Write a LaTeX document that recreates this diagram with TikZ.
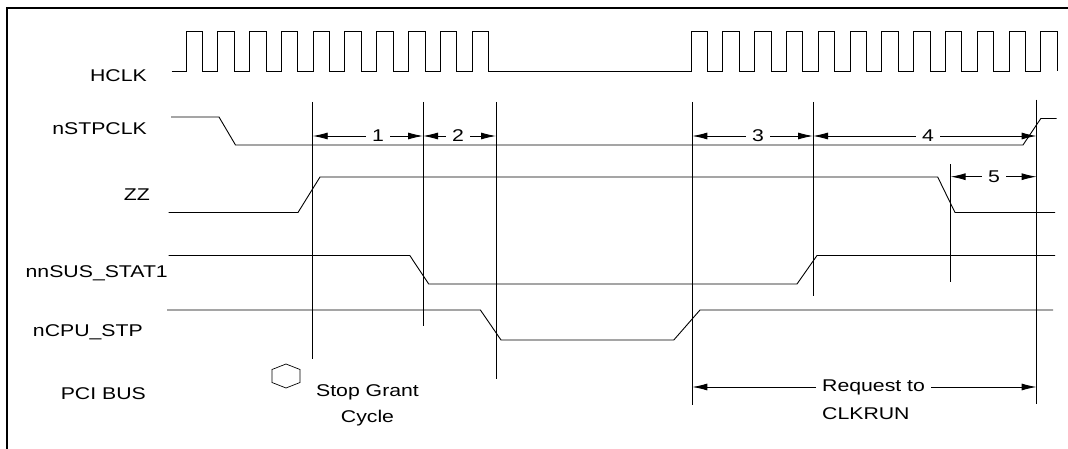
\documentclass[tikz,border=0pt]{standalone}
\usepackage{fontspec}
\setmainfont{Liberation Sans}[FakeStretch=1.25]
\usetikzlibrary{positioning,arrows.meta}
\newcommand{\sigfont}{\fontsize{17}{26}\selectfont}

\begin{document}
\begin{tikzpicture}[x=1pt,y=-1pt,
    sig/.style={line width=0.9pt},
    marker/.style={line width=0.9pt},
    dim/.style={line width=0.9pt,-{Latex[length=15pt,width=7pt]}},
    lab/.style={anchor=base east,inner sep=0pt,font=\sigfont},
    num/.style={inner xsep=6pt,inner ysep=0pt,font=\sigfont}
]
\useasboundingbox (0,0) rectangle (1068,449);
\draw[line width=1.8pt] (1068,8) -- (7,8) -- (7,449);

% signal names
\node[lab] (hclk) at (147,82)    {HCLK};
\node[lab] (stp)  at (147,135)   {nSTPCLK};
\node[lab] (zz)   at (150,201)   {ZZ};
\node[lab] (sus)  at (168,277)   {nnSUS\_STAT1};
\node[lab] (cpu)  at (143,336.5) {nCPU\_STP};
\node[lab] (pci)  at (146,399)   {PCI BUS};

% waveforms
\draw[sig] (171.5,71)
    foreach \i in {0,...,9} {-- ({186+31.78*\i},71) |- ++(16.5,-40) -- ++(0,40)}
    foreach \i in {0,...,11} {-- ({691+31.8*\i},71) |- ++(16.5,-40) -- ++(0,40)};
\draw[sig] (171,117) -- (219,117) -- (235.5,145) -- (1023,145) -- (1040.8,118.5) -- (1056.5,118.5);
\draw[sig] (168.7,212.5) -- (298,212.5) -- (320,177) -- (937.7,177) -- (955,212.5) -- (1055,212.5);
\draw[sig] (168.7,255.5) -- (409.8,255.5) -- (428.7,284) -- (797,284) -- (817,255.5) -- (1055,255.5);
\draw[sig] (167,310) -- (480.4,310) -- (501,340) -- (673.8,340) -- (700,310) -- (1053,310);

% timing marks
\coordinate (m1) at (312.7,102);
\coordinate (m2) at (423,102);
\coordinate (m3) at (496,102);
\coordinate (m4) at (692.3,102);
\coordinate (m5) at (813,102);
\coordinate (m6) at (1036.6,99.6);
\coordinate (m7) at (950.6,164.5);
\draw[marker] (m1) -- ++(0,257);
\draw[marker] (m2) -- ++(0,224);
\draw[marker] (m3) -- ++(0,277);
\draw[marker] (m4) -- ++(0,303);
\draw[marker] (m5) -- ++(0,193.5);
\draw[marker] (m6) -- ++(0,304);
\draw[marker] (m7) -- ++(0,117);

% intervals
\node[num] (d1) at (378,136) {1};
\node[num] (d2) at (458,136) {2};
\node[num] (d3) at (758,136) {3};
\node[num] (d4) at (928,136) {4};
\node[num] (d5) at (994,176.7) {5};
\draw[dim] (d1) -- (d1 -| m1);
\draw[dim] (d1) -- (d1 -| m2);
\draw[dim] (d2) -- (d2 -| m2);
\draw[dim] (d2) -- (d2 -| m3);
\draw[dim] (d3) -- (d3 -| m4);
\draw[dim] (d3) -- (d3 -| m5);
\draw[dim] (d4) -- (d4 -| m5);
\draw[dim] (d4) -- (d4 -| m6);
\draw[dim] (d5) -- (d5 -| m7);
\draw[dim] (d5) -- (d5 -| m6);

% PCI bus
\draw[line width=0.7pt] (286,364) -- (300,369.5) -- (300,382.5) -- (286,388) -- (272,382.5) -- (272,369.5) -- cycle;
\node[align=center,font=\sigfont] (sgc) at (367.5,405) {Stop Grant\\Cycle};
\node[num,anchor=west] (req) at (816,387) {Request to};
\node[anchor=west,inner sep=0pt,font=\sigfont] (clk) at (822,414) {CLKRUN};
\draw[dim] (req) -- (req -| m4);
\draw[dim] (req) -- (req -| m6);
\end{tikzpicture}
\end{document}
